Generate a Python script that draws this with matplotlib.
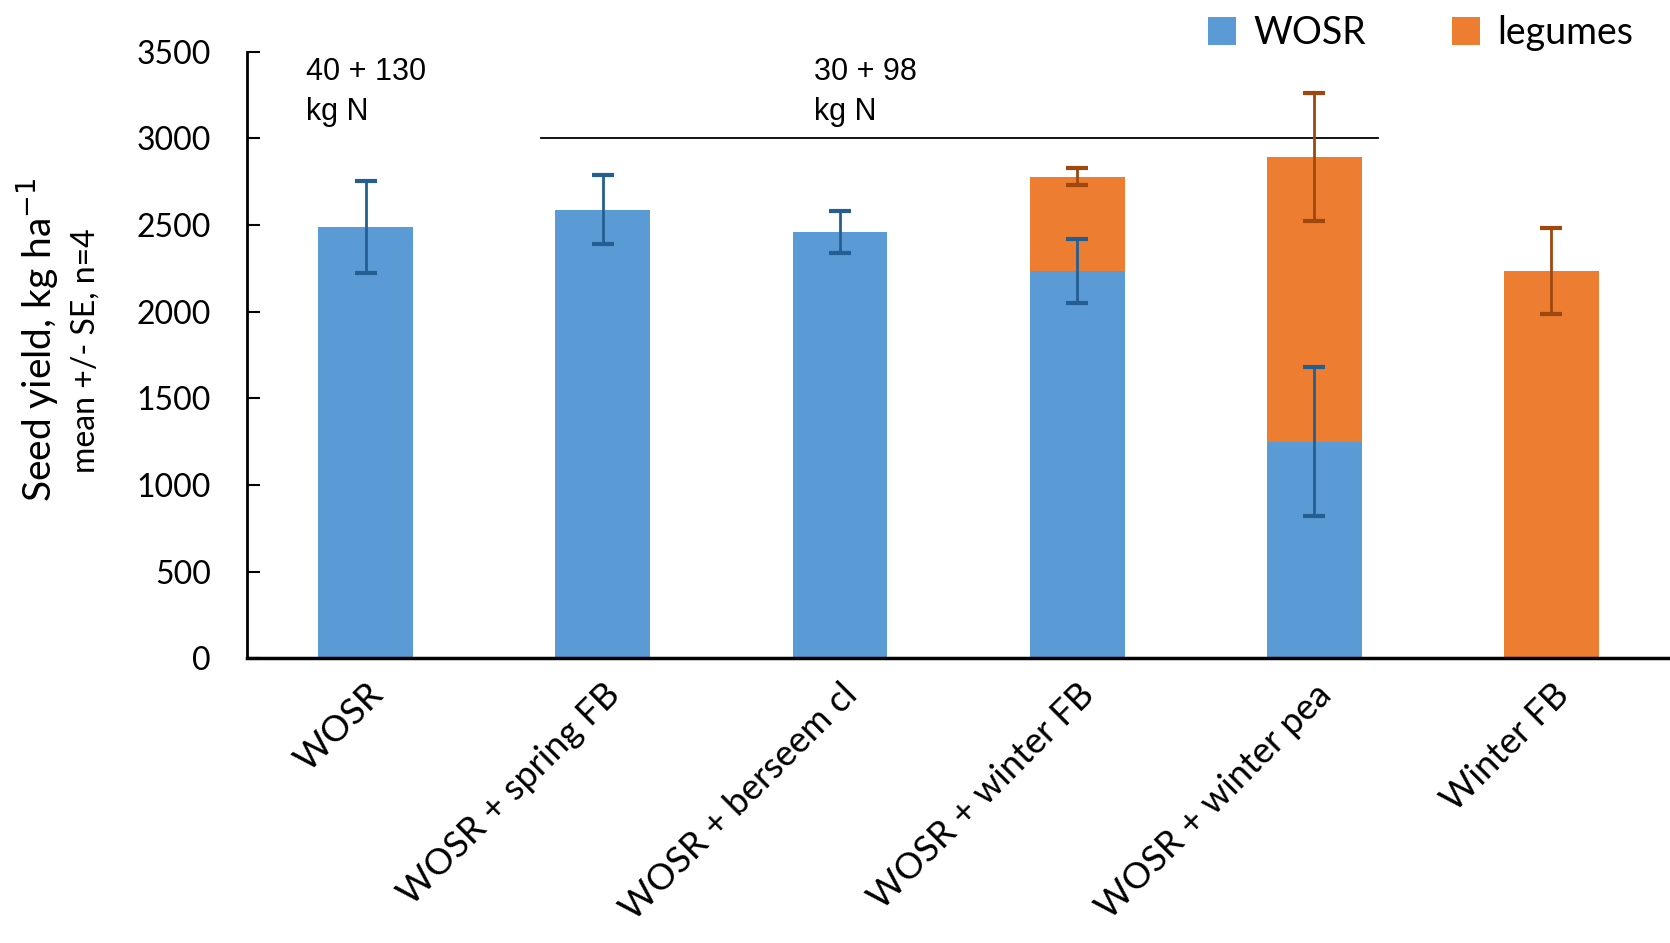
import matplotlib.pyplot as plt
import numpy as np

plt.rcParams['font.family'] = ['Lato', 'DejaVu Sans']

categories = ['WOSR', 'WOSR + spring FB', 'WOSR + berseem cl', 'WOSR + winter FB',
              'WOSR + winter pea', 'Winter FB']
wosr = [2490, 2590, 2460, 2235, 1250, 0]
wosr_se = [265, 200, 120, 185, 430, 0]
legumes = [0, 0, 0, 545, 1645, 2235]
legumes_se = [0, 0, 0, 50, 370, 250]

blue = '#5B9BD5'
orange = '#ED7D31'

x = np.arange(len(categories))

fig = plt.figure(figsize=(16.7, 9.43), dpi=100)
ax = fig.add_axes([0.148, 0.302, 0.852, 0.643])

ax.bar(x, wosr, width=0.4, color=blue, label='WOSR', zorder=2)
ax.bar(x, legumes, width=0.4, bottom=wosr, color=orange, label='legumes', zorder=2)

# error bars
for i in range(len(x)):
    if wosr[i] > 0:
        ax.errorbar(x[i], wosr[i], yerr=wosr_se[i], color='#255E91', lw=2,
                    capsize=8, capthick=3, zorder=3)
    if legumes[i] > 0:
        ax.errorbar(x[i], wosr[i] + legumes[i], yerr=legumes_se[i], color='#9E480E',
                    lw=2, capsize=8, capthick=3, zorder=3)

ax.set_xlim(-0.5, 5.5)
ax.set_ylim(0, 3500)
ax.set_yticks(np.arange(0, 3501, 500))
ax.tick_params(axis='y', direction='in', length=9, width=1.5, labelsize=23, pad=26)
ax.tick_params(axis='x', length=0, labelsize=26, pad=14)
ax.set_xticks(x)
ax.set_xticklabels(categories, rotation=45, ha='right', rotation_mode='anchor')

ax.spines['top'].set_visible(False)
ax.spines['right'].set_visible(False)
ax.spines['left'].set_linewidth(2)
ax.spines['bottom'].set_linewidth(2.5)

# N fertiliser annotations
ax.plot([0.74, 4.27], [3000, 3000], color='black', lw=1.3, zorder=1)
nfont = ['Liberation Sans Narrow', 'Liberation Sans', 'DejaVu Sans']
ax.text(-0.25, 3470, '40 + 130\nkg N', fontsize=22, va='top', ha='left',
        family=nfont, linespacing=1.45)
ax.text(1.89, 3470, '30 + 98\nkg N', fontsize=22, va='top', ha='left',
        family=nfont, linespacing=1.45)

fig.text(0.022, 0.64, 'Seed yield, kg ha$^{-1}$', rotation=90, fontsize=28,
         ha='center', va='center')
fig.text(0.051, 0.628, 'mean +/- SE, n=4', rotation=90, fontsize=23,
         ha='center', va='center')

fig.legend(loc='upper right', bbox_to_anchor=(0.998, 1.02), ncol=2, frameon=False,
           fontsize=27, handlelength=0.75, handleheight=0.75, handletextpad=0.45,
           columnspacing=2.3)

fig.savefig('out.png', dpi=100)
